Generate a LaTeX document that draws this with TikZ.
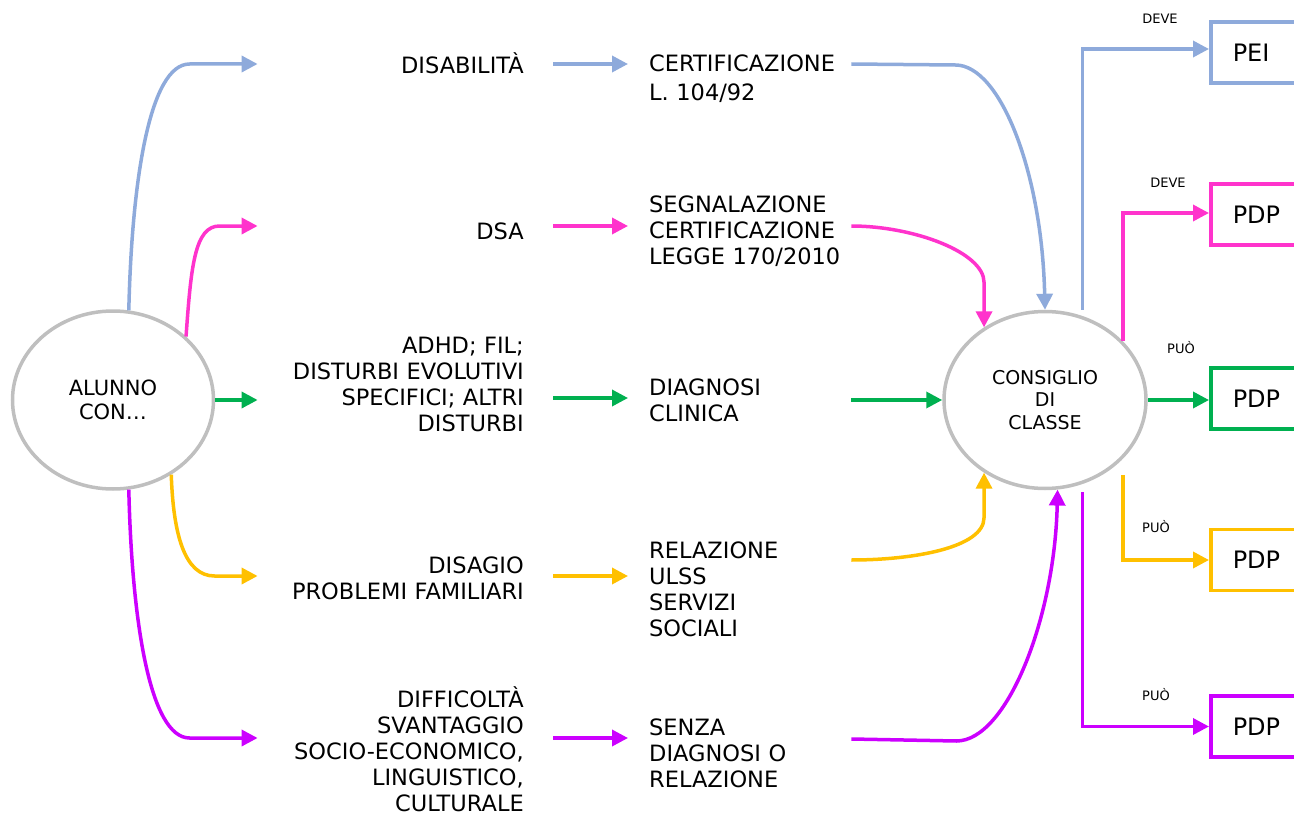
\documentclass[tikz,border=0pt]{standalone}
\usepackage{fontspec}
\setmainfont{DejaVu Sans}
\usetikzlibrary{arrows.meta,shapes.geometric}
\definecolor{blu}{RGB}{142,170,219}
\definecolor{rosa}{RGB}{255,51,204}
\definecolor{verde}{RGB}{0,176,80}
\definecolor{giallo}{RGB}{255,192,0}
\definecolor{viola}{RGB}{204,0,255}
\definecolor{grigio}{RGB}{191,191,191}

\begin{document}
\begin{tikzpicture}[x=1pt,y=-1pt]
        \tikzset{freccia/.style={line width=3.5pt, -{Triangle[length=16pt, width=16pt]}},
                 ovale/.style={ellipse, draw=grigio, line width=3.5pt, align=center, inner sep=0pt},
                 sx/.style={anchor=east, text width=266pt, align=right, inner sep=0pt, font=\fontsize{22.5}{26}\selectfont},
                 dx/.style={anchor=west, text width=202pt, align=left, inner sep=0pt, font=\fontsize{22.5}{26}\selectfont},
                 box/.style={draw=#1, line width=3.5pt, anchor=west, minimum height=61pt, text width=100pt, inner xsep=22pt, font=\fontsize{24}{28}\selectfont},
                 nota/.style={font=\fontsize{13}{15}\selectfont},
                 mid/.style={shorten <=29pt, shorten >=21pt}}
        \useasboundingbox (0,0) rectangle (1294,816);

        % rows of the horizontal arrows
        \coordinate (row1) at (0,64);
        \coordinate (row2) at (0,226);
        \coordinate (row3) at (0,398);
        \coordinate (row4) at (0,576);
        \coordinate (row5) at (0,738);

        % the two ellipses
        \node[ovale, minimum width=201pt, minimum height=178pt, font=\fontsize{21}{24}\selectfont] (alunno) at (113,400) {ALUNNO\\CON…};
        \node[ovale, minimum width=202pt, minimum height=177pt, font=\fontsize{19}{22.5}\selectfont] (consiglio) at (1045,400) {CONSIGLIO\\DI\\CLASSE};

        % left column
        \node[sx] (dis) at (524,63) {DISABILITÀ};
        \node[sx] (dsa) at (524,231) {DSA};
        \node[sx] (adhd) at (524,384) {ADHD; FIL;\\DISTURBI EVOLUTIVI\\SPECIFICI; ALTRI\\DISTURBI};
        \node[sx] (disagio) at (524,578) {DISAGIO\\PROBLEMI FAMILIARI};
        \node[sx] (diff) at (524,749) {DIFFICOLTÀ\\SVANTAGGIO\\SOCIO-ECONOMICO,\\LINGUISTICO,\\CULTURALE};

        % right column
        \node[dx] (cert) at (649,79) {CERTIFICAZIONE\\[3pt]L. 104/92};
        \node[dx] (segn) at (649,231) {SEGNALAZIONE\\CERTIFICAZIONE\\LEGGE 170/2010};
        \node[dx] (diag) at (649,400) {DIAGNOSI\\CLINICA};
        \node[dx] (rel) at (649,589) {RELAZIONE\\ULSS\\SERVIZI\\SOCIALI};
        \node[dx] (senza) at (649,753) {SENZA\\DIAGNOSI O\\RELAZIONE};

        % boxes
        \node[box=blu] (pei) at (1209,52.5) {PEI};
        \node[box=rosa] (pdpA) at (1209,214.5) {PDP};
        \node[box=verde] (pdpB) at (1209,398.5) {PDP};
        \node[box=giallo] (pdpC) at (1209,560) {PDP};
        \node[box=viola] (pdpD) at (1209,726.5) {PDP};
        \node[nota] (deveA) at (1160,19) {DEVE};
        \node[nota] (deveB) at (1168,183) {DEVE};
        \node[nota] (puoA) at (1181,348) {PUÒ};
        \node[nota] (puoB) at (1156,527) {PUÒ};
        \node[nota] (puoC) at (1156,695) {PUÒ};

        % from alunno
        \draw[freccia,blu] (alunno.80) .. controls +(3,-130) and +(-40,0) .. ([xshift=-68pt]dis.west |- row1) -- (dis.west |- row1);
        \draw[freccia,rosa] (alunno.41) .. controls +(5,-70) and +(-25,0) .. ([xshift=-38pt]dsa.west |- row2) -- (dsa.west |- row2);
        \draw[freccia,verde] (alunno.east) -- (alunno.east -| adhd.west);
        \draw[freccia,giallo] (alunno.-52) .. controls +(2,60) and +(-30,0) .. ([xshift=-43pt]disagio.west |- row4) -- (disagio.west |- row4);
        \draw[freccia,viola] (alunno.-80) .. controls +(3,130) and +(-40,0) .. ([xshift=-68pt]diff.west |- row5) -- (diff.west |- row5);

        % middle arrows
        \draw[freccia,mid,blu] (dis.east |- row1) -- (cert.west |- row1);
        \draw[freccia,mid,rosa] (dsa.east |- row2) -- (segn.west |- row2);
        \draw[freccia,mid,verde] (adhd.east |- row3) -- (diag.west |- row3);
        \draw[freccia,mid,giallo] (disagio.east |- row4) -- (rel.west |- row4);
        \draw[freccia,mid,viola] (diff.east |- row5) -- (senza.west |- row5);

        % into consiglio
        \draw[freccia,blu] (cert.east |- row1) -- ++(104,1) .. controls +(45,0) and +(-3,-137) .. (consiglio.north);
        \draw[freccia,rosa] (segn.east |- row2) .. controls +(62,0) and +(0,-30) .. ([yshift=45pt]consiglio.130) -- (consiglio.130);
        \draw[freccia,verde] (diag.east |- consiglio.west) -- (consiglio.west);
        \draw[freccia,giallo] ([yshift=29pt]rel.east) .. controls +(62,0) and +(0,30) .. ([yshift=-45pt]consiglio.-130) -- (consiglio.-130);
        \draw[freccia,viola] ([yshift=14pt]senza.east) -- ++(105,2) .. controls +(50,0) and +(-3,130) .. (consiglio.-82);

        % out of consiglio
        \draw[freccia,blu] ([yshift=6pt]consiglio.66) |- ([yshift=3.5pt]pei.west);
        \draw[freccia,rosa] (consiglio.37) |- ([yshift=1.5pt]pdpA.west);
        \draw[freccia,verde] (consiglio.east) -- (consiglio.east -| pdpB.west);
        \draw[freccia,giallo] ([yshift=-16pt]consiglio.-37) |- (pdpC.west);
        \draw[freccia,viola] ([yshift=-8pt]consiglio.-66) |- (pdpD.west);
\end{tikzpicture}
\end{document}
